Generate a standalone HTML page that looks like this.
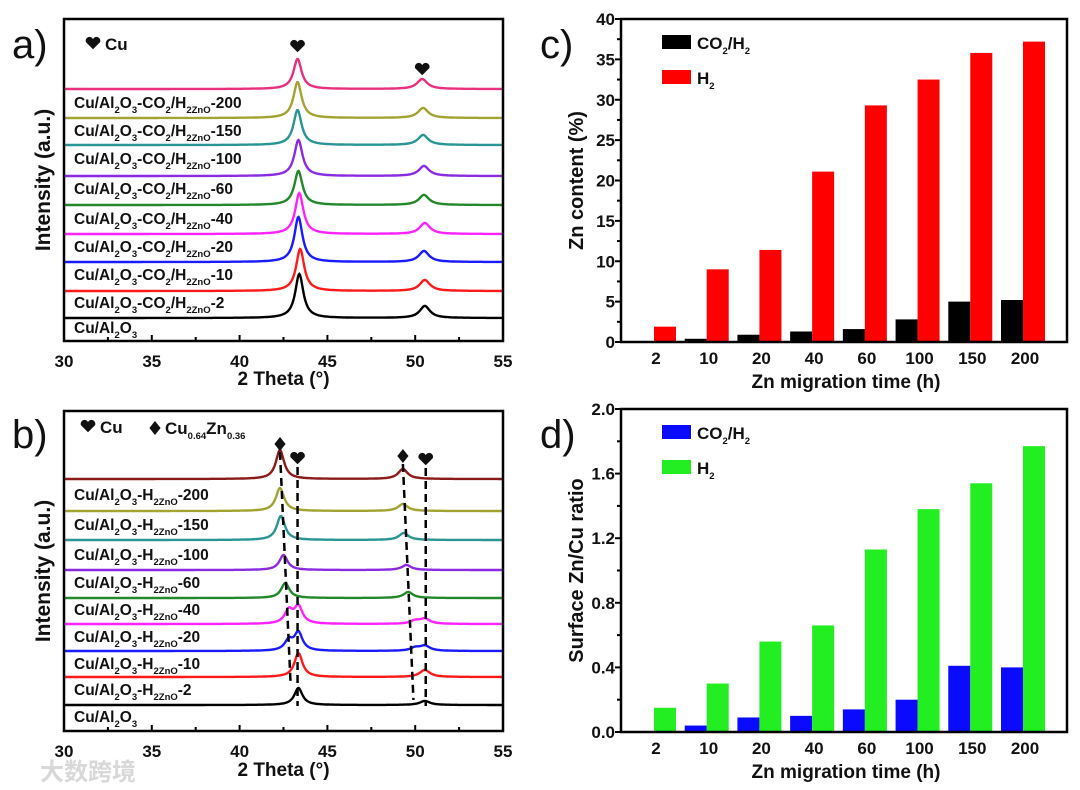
<!DOCTYPE html>
<html><head><meta charset="utf-8">
<style>
html,body{margin:0;padding:0;background:#fff;}
svg{display:block;font-family:"Liberation Sans",Arial,sans-serif;font-weight:bold;}
</style></head>
<body>
<svg id="fig" width="1080" height="790" viewBox="0 0 1080 790" xmlns="http://www.w3.org/2000/svg">
</svg>
<script>
// ---------- data ----------
const xrdASeries = ["pink","200","150","100","60","40","20","10","2"];
const xrdAColors = ["#e8307f","#a3a332","#2a9595","#8a2be2","#22882a","#ff22ff","#1a1aff","#ff1a1a","#000000"];
const xrdAPeak1Pos = [43.3,43.3,43.3,43.35,43.35,43.4,43.35,43.45,43.4];
const xrdAPeak1H = [30,36,35,36,34,41,45,42,44];
const xrdAPeak2Pos = [50.4,50.45,50.45,50.5,50.5,50.55,50.5,50.55,50.55];
const xrdAPeak2H = [10,10,10,10,10,11,11,11,12];
const xrdALabels = ["200","150","100","60","40","20","10","2"];

const xrdBColors = ["#8b1a1a","#a3a332","#2a9595","#8a2be2","#22882a","#ff22ff","#1a1aff","#ff1a1a","#000000"];
const xrdBZnPos1 = [42.3,42.3,42.35,42.5,42.6,42.8,42.8,42.9,42.9];
const xrdBZnH1 = [29,23,24,15,15,13,10,0,0];
const xrdBCuH1 = [0,0,0,0,0,17,18,24,17];
const xrdBZnPos2 = [49.3,49.3,49.35,49.5,49.6,50.0,50.0,49.9,49.9];
const xrdBZnH2 = [10,7,7,5,6,3,3,0,0];
const xrdBCuH2 = [0,0,0,0,0,5,5,7,4];
const xrdBLabels = ["200","150","100","60","40","20","10","2"];

const cats = ["2","10","20","40","60","100","150","200"];
const znCO2 = [0,0.4,0.9,1.3,1.6,2.8,5.0,5.2];
const znH2 = [1.9,9.0,11.4,21.1,29.3,32.5,35.8,37.2];
const ratioCO2 = [0,0.04,0.09,0.10,0.14,0.20,0.41,0.40];
const ratioH2 = [0.15,0.30,0.56,0.66,1.13,1.38,1.54,1.77];
const yTicksC = ["0","5","10","15","20","25","30","35","40"];
const yTicksD = ["0.0","0.4","0.8","1.2","1.6","2.0"];
const xTicksXRD = ["30","35","40","45","50","55"];

// ---------- helpers ----------
const svg = document.getElementById('fig');
const NS = "http://www.w3.org/2000/svg";
function mk(tag, attrs, parent){
  const e = document.createElementNS(NS, tag);
  for (const k in attrs) e.setAttribute(k, attrs[k]);
  (parent||svg).appendChild(e);
  return e;
}
function txt(x,y,s,size,anchor,parent){
  const t = mk('text',{x:x,y:y,'font-size':size,'text-anchor':anchor||'start',fill:'#111'},parent);
  t.textContent = s; return t;
}
function label(parent,x,y,parts){
  const t = mk('text',{x:x,y:y,'font-size':15.5,fill:'#111'},parent);
  parts.forEach(p=>{
    const s = document.createElementNS(NS,'tspan');
    s.textContent = p[0];
    if (p[1]==='sub'){ s.setAttribute('font-size','9.5'); s.setAttribute('dy','5'); }
    else if (p[1]==='up'){ s.setAttribute('dy','-5'); }
    t.appendChild(s);
  });
  return t;
}
function heart(parent,x,y,s){
  return mk('path',{d:`M${x} ${y+s*0.9} L${x-s} ${y-s*0.1} A${s*0.5} ${s*0.5} 0 0 1 ${x} ${y-s*0.55} A${s*0.5} ${s*0.5} 0 0 1 ${x+s} ${y-s*0.1} Z`,fill:'#111'},parent);
}
function diamond(parent,x,y,s){
  return mk('path',{d:`M${x} ${y-s} L${x+s*0.8} ${y} L${x} ${y+s} L${x-s*0.8} ${y} Z`,fill:'#111'},parent);
}

// ---------- XRD panels ----------
function xrdPanel(name, top, bottom, baselines, colors, peaks, labelYs, labelFn, titleY, tickY){
  const g = mk('g',{});
  
  
  const L=64,R=503;
  const xs = v => L + (v-30)/25*(R-L);
  baselines.forEach((b,i)=>{
    let d='';
    for (let v=30; v<=55.0001; v+=0.04){
      let y=b;
      peaks[i].forEach(p=>{ const u=(v-p[0])/p[2]; y -= p[1]/(1+u*u); });
      d += (d?'L':'M')+xs(v).toFixed(1)+' '+y.toFixed(1);
    }
    const c = mk('path',{d:d,fill:'none',stroke:colors[i],'stroke-width':2.4},g);
    
    
  });
  labelYs.forEach((y,i)=>{
    const t = labelFn(g, 74, y, i);
    
    
  });
  const f = mk('rect',{x:L,y:top,width:R-L,height:bottom-top,fill:'none',stroke:'#000','stroke-width':2.5},g);
  
  
  for (let v=30; v<=55; v+=2.5){
    const maj = (v%5===0);
    mk('line',{x1:xs(v),x2:xs(v),y1:bottom,y2:bottom-(maj?6:4),stroke:'#000','stroke-width':2},g);
  }
  xTicksXRD.forEach(s=>{
    const t = txt(xs(+s), tickY, s, 17, 'middle', g);
    
    
  });
  const xt = txt((L+R)/2, titleY, '2 Theta (°)', 19, 'middle', g);
  
  
  const yt = txt(0,0,'Intensity (a.u.)',21,'middle',g);
  yt.setAttribute('transform',`translate(50,${(top+bottom)/2}) rotate(-90)`);
  
  
  return {g, xs};
}

const W=0.28;
const aBase = [89,118,145,176,205,234,262,291,318];
const aPeaks = aBase.map((b,i)=>[[xrdAPeak1Pos[i],xrdAPeak1H[i],W],[xrdAPeak2Pos[i],xrdAPeak2H[i],0.35]]);
const aLabelYs = [108,136,164,194,224,252,280,308,333];
const pa = xrdPanel('xrd-panel-a',19,341,aBase,xrdAColors,aPeaks,aLabelYs,(g,x,y,i)=>{
  if (i<8) return label(g,x,y,[["Cu/Al"],["2","sub"],["O","up"],["3","sub"],["-CO","up"],["2","sub"],["/H","up"],["2ZnO","sub"],["-"+xrdALabels[i],"up"]]);
  return label(g,x,y,[["Cu/Al"],["2","sub"],["O","up"],["3","sub"]]);
},385,367);
heart(pa.g,93,43,7); txt(105,50,'Cu',17,'start',pa.g);
heart(pa.g,pa.xs(43.3),46,7); heart(pa.g,pa.xs(50.4),69,7);

const bBase = [479,511,540,570,598,624,651,677,705];
const bPeaks = bBase.map((b,i)=>[[xrdBZnPos1[i],xrdBZnH1[i],W],[43.35,xrdBCuH1[i],W],[xrdBZnPos2[i],xrdBZnH2[i],0.32],[50.55,xrdBCuH2[i],0.35]]);
const bLabelYs = [500,530,560,588,615,642,669,695,722];
const pb = xrdPanel('xrd-panel-b',411,731,bBase,xrdBColors,bPeaks,bLabelYs,(g,x,y,i)=>{
  if (i<8) return label(g,x,y,[["Cu/Al"],["2","sub"],["O","up"],["3","sub"],["-H","up"],["2ZnO","sub"],["-"+xrdBLabels[i],"up"]]);
  return label(g,x,y,[["Cu/Al"],["2","sub"],["O","up"],["3","sub"]]);
},776,757);
heart(pb.g,88,426,7); txt(100,433,'Cu',17,'start',pb.g);
diamond(pb.g,155,428,7);
label(pb.g,165,434,[["Cu"],["0.64","sub"],["Zn","up"],["0.36","sub"]]).setAttribute('font-size','17');
diamond(pb.g,pb.xs(42.3),444,7); heart(pb.g,pb.xs(43.3),458,7);
diamond(pb.g,pb.xs(49.3),456,7); heart(pb.g,pb.xs(50.6),459,7);
[[42.3,42.9,452,682],[49.3,49.9,464,700],[43.3,43.3,467,706],[50.6,50.6,468,706]].forEach(l=>{
  const d = mk('line',{x1:pb.xs(l[0]),x2:pb.xs(l[1]),y1:l[2],y2:l[3],stroke:'#000','stroke-width':2.5,'stroke-dasharray':'8,5'},pb.g);
  
  
});

[['a)',12,58],['b)',12,448],['c)',540,58],['d)',540,448]].forEach(p=>{
  const t = txt(p[1],p[2],p[0],40,'start');
  t.setAttribute('font-weight','normal');
  
  
});

// ---------- bar panels ----------
function barPanel(name, top, bottom, ymax, minorStep, ticks, s1, s2, c1, c2, ytitle){
  const g = mk('g',{});
  
  
  const L=621,R=1067;
  const ys = v => bottom - v/ymax*(bottom-top);
  const xc = i => 654 + i*(1023-654)/7;
  const bw = 22;
  cats.forEach((c,i)=>{
    const b1 = mk('rect',{x:xc(i)-bw,y:ys(s1[i]),width:bw,height:bottom-ys(s1[i]),fill:c1},g);
    
    
    const b2 = mk('rect',{x:xc(i),y:ys(s2[i]),width:bw,height:bottom-ys(s2[i]),fill:c2},g);
    
    
    const t = txt(xc(i)+2,bottom+22,c,17,'middle',g);
    
    
  });
  const f = mk('rect',{x:L,y:top,width:R-L,height:bottom-top,fill:'none',stroke:'#000','stroke-width':2.5},g);
  
  
  for (let v=0; v<=ymax+1e-9; v+=minorStep){
    const maj = Math.abs((v/(minorStep*2))-Math.round(v/(minorStep*2)))<1e-6;
    mk('line',{x1:L,x2:L-(maj?6:4),y1:ys(v),y2:ys(v),stroke:'#000','stroke-width':2},g);
  }
  ticks.forEach(s=>{
    const t = txt(615,ys(+s)+6,s,17,'end',g);
    
    
  });
  const xt = txt(846,bottom+46,'Zn migration time (h)',19,'middle',g);
  
  
  const yt = txt(0,0,ytitle,20,'middle',g);
  yt.setAttribute('transform',`translate(583,${(top+bottom)/2}) rotate(-90)`);
  
  
  const lg = mk('g',{},g);
  
  
  mk('rect',{x:662,y:top+16,width:29,height:14,fill:c1},lg);
  label(lg,697,top+30,[["CO"],["2","sub"],["/H","up"],["2","sub"]]).setAttribute('font-size','17');
  mk('rect',{x:662,y:top+51,width:29,height:14,fill:c2},lg);
  label(lg,697,top+65,[["H"],["2","sub"]]).setAttribute('font-size','17');
}
barPanel('bar-panel-c',19,342,40,2.5,yTicksC,znCO2,znH2,'#000000','#ff0000','Zn content (%)');
barPanel('bar-panel-d',409,732,2.0,0.2,yTicksD,ratioCO2,ratioH2,'#0a0aff','#22ee22','Surface Zn/Cu ratio');

const wm = txt(40,780,'大数跨境',24,'start');
wm.setAttribute('fill','#d8d8d8');
wm.setAttribute('font-family','"Noto Sans CJK SC", sans-serif');


</script>
</body></html>
